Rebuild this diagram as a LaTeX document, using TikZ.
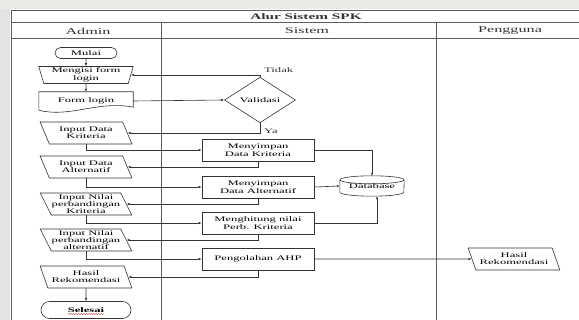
\documentclass[tikz,border=0pt]{standalone}
\usepackage{fontspec}
\setmainfont{Liberation Serif}[FakeStretch=1.8]
\usepackage{xcolor}
\usetikzlibrary{arrows.meta,calc,positioning,shapes.geometric,shapes.misc,decorations.pathmorphing}
\definecolor{ink}{HTML}{333333}
\definecolor{lane}{HTML}{5C5C5C}
\definecolor{haze}{HTML}{E8ECE4}
\definecolor{side}{HTML}{E3E3E3}
\definecolor{squig}{HTML}{C0392B}

\begin{document}
\begin{tikzpicture}[x=1pt,y=-1pt,font=\fontsize{7}{7.8}\selectfont,>={Latex[length=3pt,width=2.4pt]},
 lane/.style={draw=lane,line width=1pt},
 flow/.style={draw=ink,line width=0.6pt,->},
 line/.style={draw=ink,line width=0.6pt},
 term/.style={rounded rectangle,line,minimum width=62pt,minimum height=11pt,inner sep=0pt},
 manin/.style={trapezium,shape border rotate=180,trapezium angle=74,trapezium stretches=true,line,minimum width=95pt,minimum height=17pt,inner sep=0pt,align=center},
 io/.style={trapezium,trapezium left angle=120,trapezium right angle=60,trapezium stretches=true,line,minimum width=92pt,minimum height=22pt,inner sep=0pt,align=center,font=\fontsize{7}{7}\selectfont},
 proc/.style={rectangle,line,minimum width=112pt,minimum height=22pt,inner sep=0pt,align=center},
 lbl/.style={inner sep=0pt,text=ink}]
\useasboundingbox (0,0) rectangle (579,320);
\clip (0,0) rectangle (579,320);
\fill[white] (0,0) rectangle (579,320);
\fill[haze] (0,0) rectangle (579,9);
\fill[side] (0,9) rectangle (10,320);
% swimlanes
\draw[lane] (11,320) -- (11,11) -- (600,11);
\draw[lane] (11,23) -- (600,23);
\draw[lane] (11,39) -- (600,39);
\draw[lane] (161,23) -- (161,320);
\draw[lane] (436,23) -- (436,320);
\node[lbl,font=\fontsize{8.5}{9}\selectfont\bfseries] (ttl) at (306,17) {Alur Sistem SPK};
\node[lbl,font=\fontsize{9}{10}\selectfont] (hadm) at (88,31) {Admin};
\node[lbl,font=\fontsize{9}{10}\selectfont] (hsis) at (307,31) {Sistem};
\node[lbl,font=\fontsize{9}{10}\selectfont] (hpen) at (510,31) {Pengguna};
% admin
\node[term] (mul) at (86,53) {Mulai};
\node[manin] (mfl) at (86,75) {Mengisi form\\login};
\node[minimum width=94pt,minimum height=18pt,inner sep=0pt] (fl) at (86,101) {Form login};
\draw[line] (fl.south west) -- (fl.north west) -- (fl.north east) -- ($(fl.south east)+(0,-3)$)
 .. controls ($(fl.south)+(12,-10)$) and ($(fl.south)+(-16,8)$) .. (fl.south west);
\node[io] (ikr) at (86,133) {Input Data\\Kriteria};
\node[io] (ial) at (86,167) {Input Data\\Alternatif};
\node[io] (ipk) at (86,204) {Input Nilai\\perbandingan\\Kriteria};
\node[io] (ipa) at (86,240) {Input Nilai\\perbandingan\\alternatif};
\node[io] (har) at (86,277) {Hasil\\Rekomendasi};
\node[term,minimum width=90pt,minimum height=17pt,font=\fontsize{7}{8}\selectfont\bfseries] (sel) at (86,310) {Selesai};
\draw[squig,line width=0.4pt,decorate,decoration={snake,amplitude=0.5pt,segment length=2.5pt}] ($(sel.center)+(-18,4)$) -- ($(sel.center)+(18,4)$);
% sistem
\node[diamond,line,minimum width=71pt,minimum height=25pt,inner sep=0pt] (val) at (260,100) {Validasi};
\node[lbl,anchor=west] (tdk) at ($(val.north)+(4,-7)$) {Tidak};
\node[lbl,anchor=west] (ya) at ($(val.south)+(4,8)$) {Ya};
\node[proc] (mdk) at (258,150) {Menyimpan\\Data Kriteria};
\node[proc] (mda) at (258,187) {Menyimpan\\Data Alternatif};
\node[proc] (mnk) at (258,223) {Menghitung nilai\\Perb. Kriteria};
\node[proc] (pah) at (258,259) {Pengolahan AHP};
\node[minimum width=64pt,minimum height=20pt,inner sep=0pt] (db) at (372,186) {Database};
\draw[line] ($(db.north west)+(0,4)$) -- ($(db.south west)+(0,-4)$) arc[start angle=180,end angle=0,x radius=32,y radius=4] -- ($(db.north east)+(0,4)$);
\draw[line] ($(db.north)+(0,4)$) ellipse [x radius=32,y radius=4];
% pengguna
\node[io] (hrp) at (514,259) {Hasil\\Rekomendasi};
% alur
\draw[flow] (mul) -- (mfl);
\draw[flow] (mfl) -- (fl);
\draw[flow] (fl.east) -- (val.west);
\draw[flow] (val.north) |- (mfl.east);
\draw[flow] (val.south) |- (ikr.east);
\draw[flow] (ikr.south) |- (mdk.west);
\draw[flow] (mdk.south) |- (ial.east);
\draw[flow] (ial.south) |- (mda.west);
\draw[flow] (mda.south) |- (ipk.east);
\draw[flow] (ipk.south) |- (mnk.west);
\draw[flow] (mnk.south) |- (ipa.east);
\draw[flow] (ipa.south) |- (pah.west);
\draw[flow] (pah.south) |- (har.east);
\draw[flow] (har) -- (sel);
\draw[flow] (pah.east) -- (hrp.west);
\draw[flow] (mdk.east) -| (db.north);
\draw[flow] (mda.east) -- (db.west);
\draw[flow] (mnk.east) -| ([xshift=5pt]db.south);
\end{tikzpicture}
\end{document}
